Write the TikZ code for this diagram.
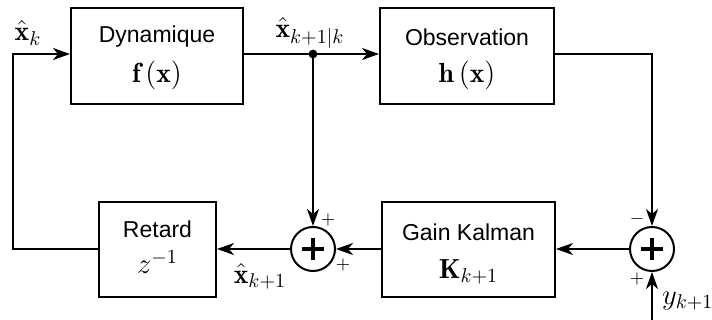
\documentclass[tikz,border=0pt]{standalone}
\usepackage{fontspec}
\newfontfamily\boxfont{Liberation Sans}
\usetikzlibrary{arrows.meta}
\begin{document}
\begin{tikzpicture}[x=0.5pt,y=-0.5pt,
  line width=1pt,
  sumnode/.style={draw,circle,minimum size=22pt,inner sep=0pt},
  txt/.style={inner sep=0pt,font=\boxfont\fontsize{11.5}{13}\selectfont},
  mth/.style={inner sep=0pt,font=\fontsize{13.8}{16}\selectfont},
  sgn/.style={inner sep=0pt,font=\fontsize{9}{10}\selectfont},
  arr/.style={-{Stealth[length=8.5pt,width=6pt,inset=2.5pt]}},
  plusbar/.style={line width=1.6pt}
]
\useasboundingbox (0,0) rectangle (712,320);
% boxes
\node[draw,minimum width=86pt,minimum height=48pt,inner sep=0pt] (dyn) at (157,56) {};
\node[draw,minimum width=87pt,minimum height=48pt,inner sep=0pt] (obs) at (467,56) {};
\node[draw,minimum width=58.5pt,minimum height=47.5pt,inner sep=0pt] (ret) at (157.5,249.5) {};
\node[draw,minimum width=86.5pt,minimum height=47.5pt,inner sep=0pt] (gain) at (468.5,249.5) {};
% box texts
\node[txt] (dynT) at (157,37) {Dynamique};
\node[mth] (dynM) at (157,75) {$\mathbf{f}\left(\mathbf{x}\right)$};
\node[txt] (obsT) at (467,37) {Observation};
\node[mth] (obsM) at (467,75) {$\mathbf{h}\left(\mathbf{x}\right)$};
\node[txt] (retT) at (157.5,229) {Retard};
\node[mth] (retM) at (157.5,262) {$z^{-1}$};
\node[txt] (gainT) at (468.5,232) {Gain Kalman};
\node[mth] (gainM) at (468.5,272) {$\mathbf{K}_{k+1}$};
% summing junctions
\node[sumnode] (s1) at (313,249) {};
\node[sumnode] (s2) at (652,249) {};
\draw[plusbar] ([xshift=-5.5pt]s1.center) -- ([xshift=5.5pt]s1.center);
\draw[plusbar] ([yshift=-5.5pt]s1.center) -- ([yshift=5.5pt]s1.center);
\draw[plusbar] ([xshift=-5.5pt]s2.center) -- ([xshift=5.5pt]s2.center);
\draw[plusbar] ([yshift=-5.5pt]s2.center) -- ([yshift=5.5pt]s2.center);
% coordinates
\coordinate (j) at (313,54);
\coordinate (tr) at (652,54);
\coordinate (yin) at (652,320);
\coordinate (bl) at (13,249);
\coordinate (tl) at (13,54);
% connectors
\draw[arr] (dyn.east |- j) -- (obs.west |- j);
\fill (j) circle (2.2pt);
\draw[arr] (j) -- (s1.north);
\draw[arr] (obs.east |- tr) -- (tr) -- (s2.north);
\draw[arr] (yin) -- (s2.south);
\draw[arr] (s2.west) -- (gain.east |- s2);
\draw[arr] (gain.west |- s1) -- (s1.east);
\draw[arr] (s1.west) -- (ret.east |- s1);
\draw[arr] (ret.west |- bl) -- (bl) -- (tl) -- (dyn.west |- tl);
% labels
\node[mth] (lxk) at (28,33) {$\hat{\mathbf{x}}_k$};
\node[mth] (lxkk) at (310,33) {$\hat{\mathbf{x}}_{k+1|k}$};
\node[mth] (lxk1) at (260,276) {$\hat{\mathbf{x}}_{k+1}$};
\node[mth,anchor=west] (ly) at (661,301) {$y_{k+1}$};
% signs
\node[sgn] (p1) at (328,220) {$+$};
\node[sgn] (p2) at (343,265) {$+$};
\node[sgn] (m3) at (637,219) {$-$};
\node[sgn] (p4) at (637,279) {$+$};
\end{tikzpicture}
\end{document}
